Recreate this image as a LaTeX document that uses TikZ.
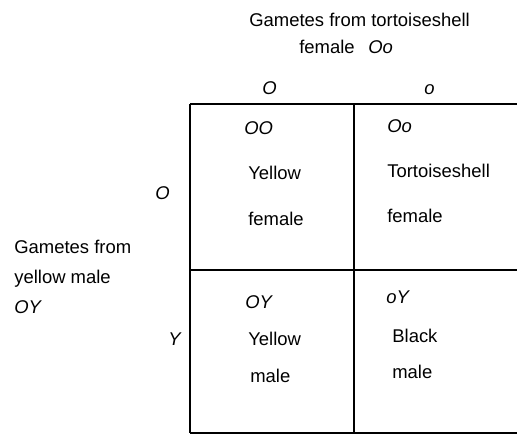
\documentclass[tikz,border=0pt]{standalone}
\usepackage{fontspec}
\setmainfont{Liberation Sans}
\usepackage{tikz}
\usetikzlibrary{positioning}

\begin{document}
\begin{tikzpicture}[x=0.02cm, y=-0.02cm,
    lbl/.style={font=\fontsize{10.5}{12}\selectfont, anchor=base west, inner sep=0pt},
    geno/.style={lbl, font=\fontsize{10.5}{12}\selectfont\itshape}]
    \def\xl{190} \def\xm{354} \def\xr{517}
    \def\yt{104} \def\ym{270} \def\yb{433}
    \useasboundingbox (0,0) rectangle (517,436);
    % Grid
    \foreach \y in {\yt,\ym,\yb} {\draw[line width=0.8pt] (\xl,\y) -- (\xr,\y);}
    \foreach \x in {\xl,\xm} {\draw[line width=0.8pt] (\x,\yt) -- (\x,\yb);}
    % Female gametes
    \node[lbl] (ftitle) at (249,27) {Gametes from tortoiseshell};
    \node[lbl] (fsub) at (299,53) {female};
    \node[geno] (fgeno) at (368,53) {Oo};
    \node[geno] (fO) at (262,94) {O};
    \node[geno] (fo) at (424,94) {o};
    % Male gametes
    \node[lbl] (mtitle) at (14,253) {Gametes from};
    \node[lbl] (msub) at (14,283) {yellow male};
    \node[geno] (mgeno) at (14,313) {OY};
    \node[geno] (mO) at (155,199) {O};
    \node[geno] (mY) at (168,345) {Y};
    % Top row
    \node[geno] (gOO) at (244,134) {OO};
    \node[lbl] (pOOa) at (248,179) {Yellow};
    \node[lbl] (pOOb) at (248,225) {female};
    \node[geno] (gOo) at (387,132) {Oo};
    \node[lbl] (pOoa) at (387,177) {Tortoiseshell};
    \node[lbl] (pOob) at (387,222) {female};
    % Bottom row
    \node[geno] (gOY) at (245,308) {OY};
    \node[lbl] (pOYa) at (248,345) {Yellow};
    \node[lbl] (pOYb) at (250,382) {male};
    \node[geno] (goY) at (386,303) {oY};
    \node[lbl] (poYa) at (392,342) {Black};
    \node[lbl] (poYb) at (392,378) {male};
\end{tikzpicture}
\end{document}
